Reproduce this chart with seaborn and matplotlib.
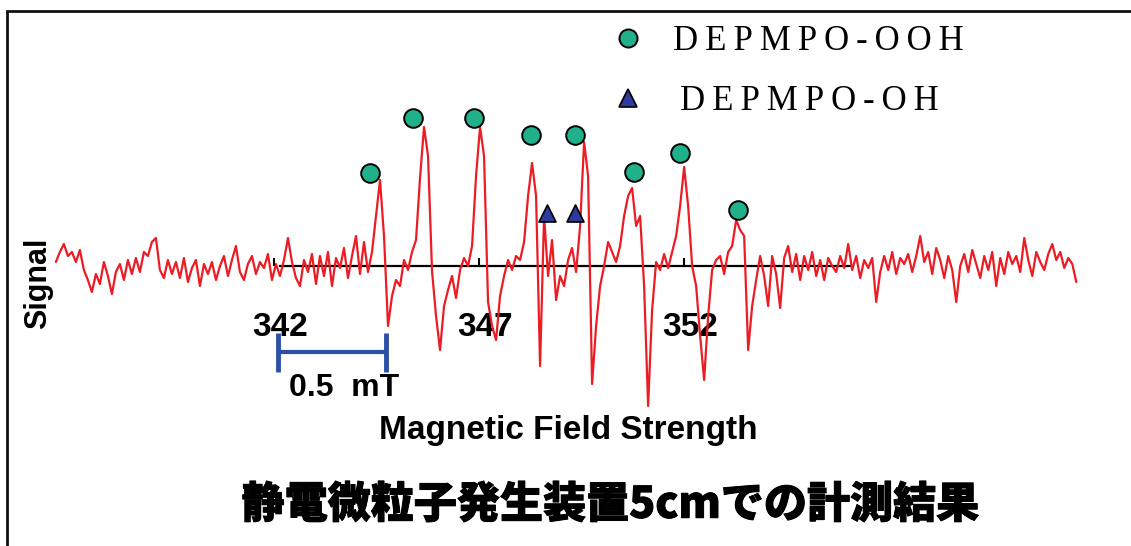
import numpy as np
import pandas as pd
import matplotlib
matplotlib.use("Agg")
import matplotlib.pyplot as plt
import matplotlib.patheffects as pe
import seaborn as sns
from matplotlib.patches import Rectangle
from matplotlib.lines import Line2D
from matplotlib.font_manager import FontProperties
from matplotlib.transforms import ScaledTranslation

# ---------------- data ----------------
field_start = 336.68      # field of first spectrum sample
field_step = 0.0976       # sampling interval of the spectrum

signal_left = [
    4, 14, 22, 10, 14, 4, 16, -4, -14, -26,
    -8, -18, 4, -10, -28, -6, 2, -14, 6, -8,
    8, -6, 14, 10, 24, 28, -4, -12, 6, -8,
    4, -12, 8, -16, -2, 6, -20, 2, -8, 4,
    -14, 0, 10, -10, 6, 20, -6, -14, 2, 10,
    -8, 4, -2, 12, -14, 2, -10, 6, 28, 4,
    -12, -20, 6, -6, 12, -18, 10, -10, 14, -20,
    8, -2, 18, -12,
]
signal_peaks = [
    10, 30, -8, 24, -6, 14, 50, 86, 30, -60,
    -30, -14, -20, 6, -4, 14, 26, 88, 139, 110,
    -5, -50, -84, -40, -24, -10, -32, -4, 8, 0,
    20, 90, 139, 110, -36, -60, -74, -30, -10, 6,
    -4, 10, 6, 24, 70, 103, 70, -100, 50, -10,
    26, -34, -10, -20, 6, 18, -6, 40, 124, 90,
    -118, -60, -20, 0, 24, 14, 4, 20, 50, 70,
    78, 40, 50, -20, -140, -44, 4, -4, 12, -2,
    14, 30, 60, 99, 60, 0, -20, -70, -114, -50,
    -4, 6, 10, -8, 14, 20, 46, 36, 30, -84,
    -40, -14, 10,
]
signal_right = [
    -10, -40, 10, -8, -42, 8, 20, -6, 12, -14,
    10, -4, 14, -10, 6, -14, 8, 0, -6, 10,
    -2, 22, -4, 10, -12, 6, -2, 8, -36, -6,
    10, -4, 14, -8, 8, 2, 12, -6, 10, 30,
    4, 14, -8, 18, 6, -12, 10, -4, -36, 0,
    12, -6, 16, 2, -12, 10, -4, 14, -20, 8,
    -8, 14, 2, 10, -6, 28, 6, -10, 14, 4,
    -4, 12, 22, 6, 14, -2, 8, 2, -16,
]

ooh_field = [344.34, 345.39, 346.88, 348.27, 349.34, 350.78, 351.90, 353.32]
ooh_signal = [93, 148, 148, 131, 131, 94, 113, 56]
oh_field = [348.66, 349.34]
oh_signal = [53, 53]

tick_values = [342, 347, 352]
tick_labels = ["342", "347", "352"]
scale_bar_start = 342.1
scale_bar_length = 2.63
scale_bar_label = "0.5  mT"
x_label = "Magnetic Field Strength"
y_label = "Signal"
legend_labels = ["DEPMPO-OOH", "DEPMPO-OH"]
title = "静電微粒子発生装置5cmでの計測結果"

# ---------------- build ----------------
signal = signal_left + signal_peaks + signal_right
field = field_start + field_step * np.arange(len(signal))
df = pd.DataFrame({"field": field, "signal": signal})

W, H = 1131, 546
sns.set_theme(style="white")
plt.rcParams["font.family"] = ["Liberation Sans", "Noto Sans CJK JP", "DejaVu Sans"]
plt.rcParams["text.color"] = "black"

red = "#ec1c24"
green = "#20b08a"
navy = "#2e3a9c"
blue = "#2a4fa6"

fig = plt.figure(figsize=(W / 100, H / 100), dpi=100)
ax = fig.add_axes([0, 0, 1, 1])
ax.set_facecolor("white")

sns.lineplot(data=df, x="field", y="signal", ax=ax, color=red, lw=1.6,
             estimator=None, sort=False, zorder=3)
sns.scatterplot(x=ooh_field, y=ooh_signal, ax=ax, marker="o", s=180,
                color=green, edgecolor="black", linewidth=1.4, zorder=5, legend=False)
sns.scatterplot(x=oh_field, y=oh_signal, ax=ax, marker="^", s=150,
                color=navy, edgecolor="black", linewidth=1.2, zorder=5, legend=False)

px_per_unit = 41.0
x0 = 342 - 274 / px_per_unit
ax.set_xlim(x0, x0 + W / px_per_unit)
ax.set_ylim(266 - H, 266)
ax.set_xlabel("")
ax.set_ylabel("")

for s in ["left", "right", "top"]:
    ax.spines[s].set_visible(False)
ax.spines["bottom"].set_position(("data", 0))
ax.spines["bottom"].set_bounds(342.15, 356.05)
ax.spines["bottom"].set_linewidth(1.6)
ax.spines["bottom"].set_color("black")
ax.spines["bottom"].set_zorder(2)
ax.set_yticks([])
ax.set_xticks(tick_values)
ax.set_xticklabels(tick_labels)
ax.tick_params(axis="x", direction="in", length=6, width=1.5, color="black",
               pad=33, labelsize=24, bottom=True, labelcolor="black")
for lab in ax.get_xticklabels():
    lab.set_fontweight("bold")
    lab.set_transform(lab.get_transform() + ScaledTranslation(0.06, 0, fig.dpi_scale_trans))

# scale bar
ax.plot([scale_bar_start, scale_bar_start + scale_bar_length], [-86, -86],
        color=blue, lw=3, zorder=4, solid_capstyle="butt")
ax.vlines([scale_bar_start, scale_bar_start + scale_bar_length], -106, -67,
          color=blue, lw=3.5, zorder=4)
fig.text(289 / W, 1 - 388 / H, scale_bar_label, ha="left", va="center",
         fontsize=23, fontweight="bold", color="black")

fig.text(38 / W, 1 - 283 / H, y_label, rotation=90, ha="center", va="center",
         fontsize=22, fontweight="bold", color="black")
fig.text(568 / W, 1 - 431 / H, x_label, ha="center", va="center",
         fontsize=24, fontweight="bold", color="black")
fig.text(610 / W, 1 - 505 / H, title, ha="center", va="center", fontsize=31,
         fontweight="heavy", family=["Noto Sans CJK JP", "DejaVu Sans"], color="black",
         path_effects=[pe.withStroke(linewidth=0.7, foreground="black")])

# legend
thin = "\u2009"
lab1 = thin.join(legend_labels[0])
lab2 = thin + thin.join(legend_labels[1])
handles = [
    Line2D([], [], ls="", marker="o", markersize=13, markerfacecolor=green,
           markeredgecolor="black", markeredgewidth=1.4),
    Line2D([], [], ls="", marker="^", markersize=12.5, markerfacecolor=navy,
           markeredgecolor="black", markeredgewidth=1.2),
]
ax.legend(handles, [lab1, lab2], loc="upper left",
          bbox_to_anchor=(612 / W, 1 - 25 / H), bbox_transform=fig.transFigure,
          frameon=False, prop=FontProperties(family=["Liberation Serif", "DejaVu Serif"], size=25),
          handlelength=0.9, handletextpad=0.85, labelspacing=0.78, borderpad=0, borderaxespad=0,
          labelcolor="black")

# frame (top and left edges visible)
fig.add_artist(Rectangle((7 / W, -0.2), 1.3, 1.2 - 10.5 / H,
                         transform=fig.transFigure, fill=False, edgecolor="#111111",
                         lw=2.0, zorder=10))

fig.savefig("out.png", dpi=100)
